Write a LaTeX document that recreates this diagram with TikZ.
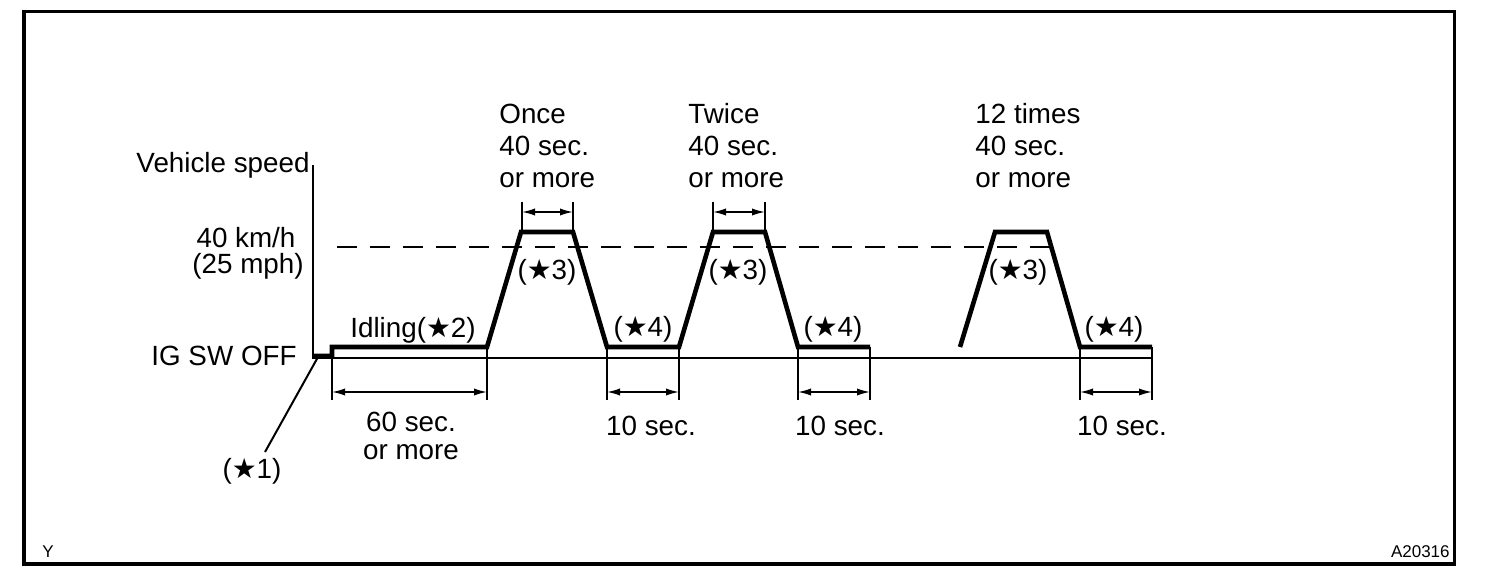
\documentclass[tikz,border=0pt]{standalone}
\usepackage{fontspec}
\setmainfont{Liberation Sans}
\newfontfamily\symf{DejaVu Sans}
\usetikzlibrary{arrows.meta}
\newcommand\mystar{{\symf\char"2605}}
\begin{document}
\begin{tikzpicture}[x=0.5pt,y=-0.5pt,
  lab/.style={font=\fontsize{13.9}{16}\selectfont, inner sep=0pt},
  small/.style={font=\fontsize{8.5}{10}\selectfont, inner sep=0pt},
  speed/.style={line width=2.3pt, line join=miter},
  thinln/.style={line width=0.75pt},
  dimln/.style={line width=0.75pt, {Latex[length=6.5pt,width=3.6pt]}-{Latex[length=6.5pt,width=3.6pt]}},
  framel/.style={line width=1.6pt},
  dashln/.style={line width=0.75pt, dash pattern=on 10pt off 6.5pt}]
\useasboundingbox (0,0) rectangle (1504,578);
% frame
\coordinate (fA) at (24,11.5);
\coordinate (fB) at (1454.5,564);
\draw[framel] (fA) rectangle (fB);
% axes
\coordinate (axtop) at (313,165);
\coordinate (o) at (313,358);
\coordinate (axend) at (1152,358);
\draw[thinln] (axtop) -- (o) -- (axend);
% dashed 40 km/h level
\coordinate (dl) at (337,247);
\coordinate (dr) at (1050,247);
\draw[dashln] (dl) -- (dr);
% speed curve
\coordinate (s0) at (313,356);
\coordinate (s1) at (332,356);
\coordinate (s2) at (332,347);
\coordinate (a1) at (487,347);
\coordinate (b1) at (521,232);
\coordinate (c1) at (573,232);
\coordinate (d1) at (607,347);
\coordinate (a2) at (679,347);
\coordinate (b2) at (713,232);
\coordinate (c2) at (765,232);
\coordinate (d2) at (798,347);
\coordinate (e2) at (870,347);
\coordinate (a3) at (960,347);
\coordinate (b3) at (995,232);
\coordinate (c3) at (1047,232);
\coordinate (d3) at (1080,347);
\coordinate (e3) at (1152,347);
\draw[speed] (s0) -- (s1) -- (s2) -- (a1) -- (b1) -- (c1) -- (d1) -- (a2) -- (b2) -- (c2) -- (d2) -- (e2);
\draw[speed] (a3) -- (b3) -- (c3) -- (d3) -- (e3);
% bottom dimensions
\foreach \n/\xa/\xb in {p/332/487, q/607/679, r/798/870, t/1080/1152}{
  \coordinate (\n1) at (\xa,348);
  \coordinate (\n2) at (\xa,400);
  \coordinate (\n3) at (\xb,347);
  \coordinate (\n4) at (\xb,400);
  \coordinate (\n5) at (\xa,392);
  \coordinate (\n6) at (\xb,392);
  \draw[thinln] (\n1) -- (\n2);
  \draw[thinln] (\n3) -- (\n4);
  \draw[dimln] (\n5) -- (\n6);
}
% top dimensions
\foreach \n/\xa/\xb in {u/522/573, v/713/765}{
  \coordinate (\n1) at (\xa,202);
  \coordinate (\n2) at (\xa,232);
  \coordinate (\n3) at (\xb,202);
  \coordinate (\n4) at (\xb,232);
  \coordinate (\n5) at (\xa,212);
  \coordinate (\n6) at (\xb,212);
  \draw[thinln] (\n1) -- (\n2);
  \draw[thinln] (\n3) -- (\n4);
  \draw[dimln] (\n5) -- (\n6);
}
% leader for star 1
\coordinate (l1) at (318,357);
\node[lab, anchor=base] (st1) at (252,478) {(\mystar1)};
\coordinate (l2) at (265,452);
\draw[line width=1pt] (l1) -- (l2);
% labels
\node[lab, anchor=base east] (vs) at (310,172) {Vehicle speed};
\node[lab, anchor=base] (kmh) at (246,247) {40 km/h};
\node[lab, anchor=base] (mph) at (248,273) {(25 mph)};
\node[lab, anchor=base east] (ig) at (297,365) {IG SW OFF};
\node[lab, anchor=base] (idl) at (413,337) {Idling(\mystar2)};
\node[lab, anchor=base] (sx1) at (411,431) {60 sec.};
\node[lab, anchor=base] (sx2) at (411,459) {or more};
\node[lab, anchor=base west] (on1) at (499,123) {Once};
\node[lab, anchor=base west] (on2) at (499,155) {40 sec.};
\node[lab, anchor=base west] (on3) at (499,187) {or more};
\node[lab, anchor=base west] (tw1) at (688,123) {Twice};
\node[lab, anchor=base west] (tw2) at (688,155) {40 sec.};
\node[lab, anchor=base west] (tw3) at (688,187) {or more};
\node[lab, anchor=base west] (tt1) at (975,123) {12 times};
\node[lab, anchor=base west] (tt2) at (975,155) {40 sec.};
\node[lab, anchor=base west] (tt3) at (975,187) {or more};
\node[lab, anchor=base] (st3a) at (547,279) {(\mystar3)};
\node[lab, anchor=base] (st3b) at (738,279) {(\mystar3)};
\node[lab, anchor=base] (st3c) at (1018,279) {(\mystar3)};
\node[lab, anchor=base] (st4a) at (643,336) {(\mystar4)};
\node[lab, anchor=base] (st4b) at (833,336) {(\mystar4)};
\node[lab, anchor=base] (st4c) at (1114,336) {(\mystar4)};
\node[lab, anchor=base] (ten1) at (651,435) {10 sec.};
\node[lab, anchor=base] (ten2) at (840,435) {10 sec.};
\node[lab, anchor=base] (ten3) at (1122,435) {10 sec.};
\node[small, anchor=base west] (ylab) at (42,557) {Y};
\node[small, anchor=base east] (code) at (1450,557) {A20316};
\end{tikzpicture}
\end{document}
